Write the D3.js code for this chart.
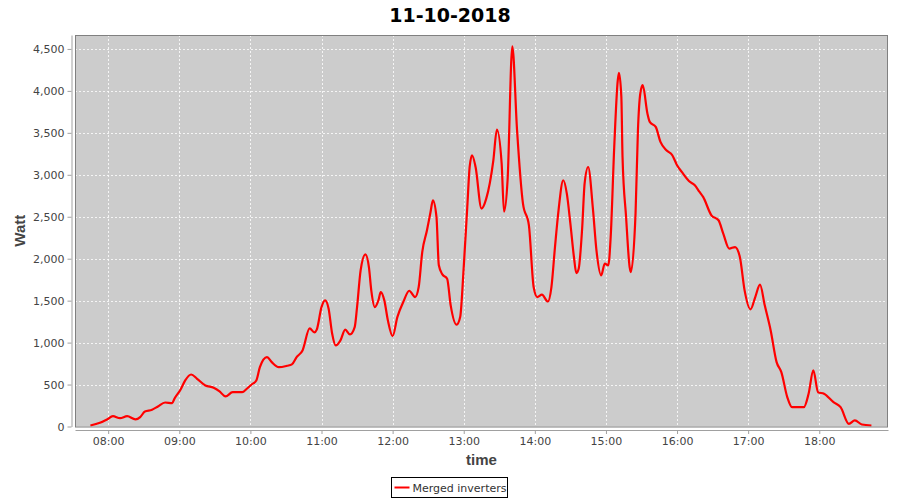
<!DOCTYPE html>
<html>
<head>
<meta charset="utf-8">
<script src="https://cdn.jsdelivr.net/npm/d3@7"></script>
<style>
  body { margin: 0; background: #fff; }
  svg { display: block; font-family: "DejaVu Sans", sans-serif; }
</style>
</head>
<body>
<script>
// readings from the chart, 11-10-2018
var chartTitle = "11-10-2018";
var seriesName = "Merged inverters";

var times = [
    "07:45", "07:53", "07:59", "08:04", "08:10", "08:16", "08:23", "08:27", "08:31", "08:37",
    "08:42", "08:48", "08:54", "08:56", "09:01", "09:05", "09:10", "09:15", "09:22", "09:29",
    "09:34", "09:39", "09:45", "09:53", "09:57", "10:01", "10:05", "10:08", "10:14", "10:18",
    "10:24", "10:31", "10:35", "10:39", "10:44", "10:50", "10:54", "10:56", "11:00", "11:03",
    "11:06", "11:09", "11:12", "11:16", "11:20", "11:24", "11:28", "11:30", "11:33", "11:37",
    "11:40", "11:42", "11:45", "11:48", "11:50", "11:53", "11:56", "12:00", "12:04", "12:09",
    "12:14", "12:19", "12:22", "12:25", "12:29", "12:32", "12:34", "12:37", "12:39", "12:42",
    "12:46", "12:49", "12:54", "12:57", "13:00", "13:03", "13:05", "13:07", "13:10", "13:15",
    "13:19", "13:25", "13:28", "13:32", "13:34", "13:37", "13:41", "13:45", "13:50", "13:55",
    "13:59", "14:02", "14:06", "14:11", "14:14", "14:17", "14:20", "14:24", "14:27", "14:30",
    "14:33", "14:35", "14:37", "14:40", "14:42", "14:45", "14:49", "14:52", "14:56", "14:59",
    "15:02", "15:04", "15:07", "15:10", "15:11", "15:13", "15:14", "15:17", "15:20", "15:21",
    "15:25", "15:27", "15:29", "15:31", "15:35", "15:37", "15:42", "15:46", "15:51", "15:56",
    "16:00", "16:04", "16:10", "16:15", "16:19", "16:22", "16:29", "16:35", "16:39", "16:44",
    "16:49", "16:53", "16:57", "17:02", "17:06", "17:10", "17:14", "17:19", "17:24", "17:28",
    "17:33", "17:37", "17:47", "17:51", "17:55", "17:59", "18:04", "18:12", "18:18", "18:25",
    "18:30", "18:36", "18:44"
];

var watts = [
    12, 44, 84, 123, 99, 123, 84, 111, 179, 199,
    239, 286, 278, 334, 438, 549, 620, 569, 489, 462,
    418, 358, 409, 409, 450, 501, 549, 707, 827, 767,
    707, 724, 740, 827, 907, 1169, 1121, 1154, 1423, 1503,
    1404, 1106, 966, 1026, 1154, 1098, 1185, 1423, 1861, 2052,
    1900, 1622, 1423, 1503, 1602, 1503, 1265, 1077, 1304, 1483,
    1618, 1543, 1662, 2079, 2338, 2557, 2696, 2497, 1921, 1813,
    1762, 1444, 1213, 1304, 1900, 2616, 3093, 3233, 3093, 2597,
    2716, 3173, 3540, 3134, 2560, 2935, 4530, 3531, 2657, 2398,
    1662, 1543, 1571, 1490, 1662, 2139, 2577, 2935, 2776, 2418,
    2020, 1829, 1881, 2378, 2895, 3093, 2597, 2100, 1801, 1941,
    1921, 2258, 3332, 4128, 4215, 3928, 3213, 2497, 1900, 1841,
    2546, 3531, 3969, 4068, 3731, 3630, 3571, 3392, 3293, 3233,
    3114, 3034, 2926, 2875, 2795, 2736, 2517, 2458, 2299, 2120,
    2139, 2020, 1622, 1396, 1543, 1690, 1444, 1145, 767, 648,
    350, 230, 230, 390, 668, 409, 390, 290, 230, 32,
    72, 24, 12
];

var yTicks = [0, 500, 1000, 1500, 2000, 2500, 3000, 3500, 4000, 4500];
var xStart = "07:32", xEnd = "18:58";

function show_chart(width, height) {
    var parseTime = d3.timeParse("%Y-%m-%d %H:%M");
    var day = "2018-10-11 ";

    var data = times.map(function(t, i) {
        return { t: parseTime(day + t), w: watts[i] };
    });

    // plot area
    var left = 75, right = 888, top = 35, bottom = 426.5;

    var svg = d3.select("body").append("svg")
                .attr("width", width)
                .attr("height", height);

    var xScale = d3.scaleTime()
                    .domain([parseTime(day + xStart), parseTime(day + xEnd)])
                    .range([left, right]);

    var yScale = d3.scaleLinear()
                    .domain([0, 4666])
                    .range([bottom, top]);

    // title
    svg.append("text")
        .attr("x", width / 2)
        .attr("y", 22)
        .attr("text-anchor", "middle")
        .attr("font-size", "19px")
        .attr("font-weight", "bold")
        .attr("fill", "#000")
        .text(chartTitle);

    // background
    svg.append("rect")
        .attr("x", left).attr("y", top)
        .attr("width", right - left).attr("height", bottom - top)
        .attr("fill", "#cccccc");

    // gridlines
    var grid = svg.append("g")
                .attr("stroke", "#ffffff")
                .attr("stroke-width", 0.8)
                .attr("stroke-dasharray", "2,2");

    grid.selectAll("line.h")
        .data(yTicks)
        .enter()
        .append("line")
        .attr("x1", left).attr("x2", right)
        .attr("y1", function(d) { return Math.round(yScale(d)) + 0.5; })
        .attr("y2", function(d) { return Math.round(yScale(d)) + 0.5; });

    grid.selectAll("line.v")
        .data(xScale.ticks(d3.timeHour.every(1)))
        .enter()
        .append("line")
        .attr("y1", top).attr("y2", bottom)
        .attr("x1", function(d) { return Math.round(xScale(d)) + 0.5; })
        .attr("x2", function(d) { return Math.round(xScale(d)) + 0.5; });

    // the series
    var line = d3.line()
                .x(function(d) { return xScale(d.t); })
                .y(function(d) { return yScale(d.w); })
                .curve(d3.curveMonotoneX);

    svg.append("path")
        .datum(data)
        .attr("fill", "none")
        .attr("stroke", "#ff0000")
        .attr("stroke-width", 2.2)
        .attr("stroke-linejoin", "round")
        .attr("d", line);

    // plot outline
    svg.append("rect")
        .attr("x", left + 0.5).attr("y", top + 0.5)
        .attr("width", right - left - 1).attr("height", bottom - top)
        .attr("fill", "none")
        .attr("stroke", "#808080");

    // y axis, set off a little from the plot
    var yAxis = d3.axisLeft(yScale)
                .tickValues(yTicks)
                .tickFormat(d3.format(","))
                .tickSizeInner(4)
                .tickSizeOuter(0)
                .tickPadding(3);

    var gy = svg.append("g")
        .attr("transform", "translate(" + (left - 3.5) + ",0)")
        .call(yAxis);

    // x axis
    var xAxis = d3.axisBottom(xScale)
                .ticks(d3.timeHour.every(1))
                .tickFormat(d3.timeFormat("%H:%M"))
                .tickSizeInner(4)
                .tickSizeOuter(0)
                .tickPadding(3);

    var gx = svg.append("g")
        .attr("transform", "translate(0," + (bottom + 3.5) + ")")
        .call(xAxis);

    [gx, gy].forEach(function(g) {
        g.select(".domain").attr("stroke", "#a0a0a0");
        g.selectAll(".tick line").attr("stroke", "#a0a0a0");
        g.selectAll(".tick text")
            .attr("fill", "#444")
            .attr("font-size", "11px")
            .attr("font-family", "'DejaVu Sans', sans-serif");
    });

    // axis labels
    svg.append("text")
        .attr("x", (left + right) / 2)
        .attr("y", 465)
        .attr("text-anchor", "middle")
        .attr("font-family", "'Liberation Sans', sans-serif")
        .attr("font-size", "15px")
        .attr("font-weight", "bold")
        .attr("fill", "#444")
        .text("time");

    svg.append("text")
        .attr("transform", "translate(25," + ((top + bottom) / 2) + ") rotate(-90)")
        .attr("text-anchor", "middle")
        .attr("font-family", "'Liberation Sans', sans-serif")
        .attr("font-size", "15px")
        .attr("font-weight", "bold")
        .attr("fill", "#444")
        .text("Watt");

    // legend
    var legend = svg.append("g").attr("transform", "translate(391.5,477.5)");
    legend.append("rect")
        .attr("width", 116).attr("height", 20)
        .attr("fill", "#fff")
        .attr("stroke", "#000");
    legend.append("line")
        .attr("x1", 3).attr("x2", 18)
        .attr("y1", 10).attr("y2", 10)
        .attr("stroke", "#ff0000")
        .attr("stroke-width", 2);
    legend.append("text")
        .attr("x", 21)
        .attr("y", 14)
        .attr("font-size", "11px")
        .attr("fill", "#333")
        .text(seriesName);
}

var width = 900;
var height = 500;

document.addEventListener("DOMContentLoaded", show_chart(width, height));
</script>
</body>
</html>
